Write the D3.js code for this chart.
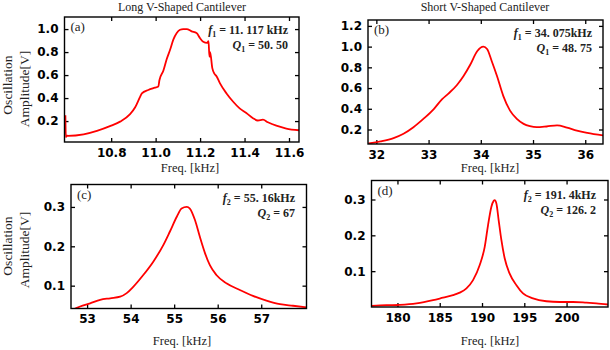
<!DOCTYPE html>
<html>
<head>
<meta charset="utf-8">
<script src="https://cdn.jsdelivr.net/npm/d3@7"></script>
<style>
body{margin:0;background:#fff;}
svg{display:block;}
.tick text{font-family:"DejaVu Sans",sans-serif;font-weight:bold;font-size:12px;fill:#000;}
.tick line{stroke:#000;stroke-width:1.3;}
.serif{font-family:"Liberation Serif",serif;fill:#222;}
</style>
</head>
<body>
<svg></svg>
<script>

// (a) long cantilever, first mode
var freqA = [10.594,10.596,10.599,10.605,10.676,10.736,10.8,10.84,10.885,10.908,10.93,10.938,10.967,10.997,11.012,11.017,11.035,11.05,11.065,11.08,11.095,11.11,11.124,11.14,11.162,11.184,11.2,11.214,11.232,11.238,11.242,11.245,11.255,11.265,11.274,11.289,11.319,11.348,11.378,11.408,11.438,11.46,11.483,11.505,11.543,11.588,11.645];
var ampA  = [0.25,0.06,0.075,0.072,0.085,0.115,0.16,0.195,0.26,0.32,0.41,0.44,0.47,0.49,0.5,0.555,0.64,0.74,0.82,0.91,0.966,0.994,1.0,1.0,0.98,0.966,0.92,0.89,0.88,0.895,0.76,0.80,0.66,0.61,0.59,0.53,0.44,0.37,0.31,0.27,0.225,0.205,0.212,0.19,0.16,0.135,0.12];

// (b) short cantilever, first mode
var freqB = [31.85,32.08,32.33,32.52,32.71,32.9,33.1,33.26,33.38,33.54,33.67,33.8,33.93,34.05,34.12,34.21,34.31,34.43,34.56,34.69,34.82,34.94,35.07,35.26,35.46,35.65,35.84,36.04,36.34];
var ampB  = [0.065,0.085,0.117,0.159,0.222,0.302,0.397,0.493,0.547,0.627,0.716,0.827,0.955,1.0,0.977,0.859,0.716,0.525,0.382,0.302,0.254,0.232,0.222,0.229,0.24,0.219,0.19,0.168,0.143];

// (c) long cantilever, second mode
var freqC = [52.63,52.84,53.07,53.3,53.53,53.76,53.91,54.06,54.29,54.52,54.75,54.9,55.06,55.17,55.29,55.36,55.48,55.59,55.71,55.82,55.97,56.2,56.51,56.81,57.12,57.43,57.73,58.04];
var ampC  = [0.037,0.047,0.055,0.064,0.068,0.072,0.081,0.097,0.127,0.161,0.203,0.237,0.275,0.296,0.3,0.296,0.266,0.224,0.182,0.152,0.127,0.106,0.089,0.074,0.062,0.053,0.049,0.045];

// (d) short cantilever, second mode
var freqD = [176.93,178.7,180.27,182.25,184.21,185.39,186.57,187.36,188.16,188.94,189.73,190.32,190.71,191.11,191.38,191.5,191.7,191.97,192.29,192.68,193.27,194.07,194.85,196.03,197.61,199.18,200.76,202.34,203.52,204.9];
var ampD  = [0.003,0.005,0.006,0.01,0.019,0.026,0.033,0.04,0.052,0.075,0.117,0.168,0.228,0.28,0.296,0.298,0.289,0.242,0.187,0.136,0.093,0.061,0.038,0.024,0.016,0.014,0.014,0.012,0.01,0.007];

var xTicksA = [10.8,11.0,11.2,11.4,11.6];
var yTicksA = [0.2,0.4,0.6,0.8,1.0];
var xTicksB = [32,33,34,35,36];
var yTicksB = [0.2,0.4,0.6,0.8,1.0,1.2];
var xTicksC = [53,54,55,56,57];
var yTicksC = [0.1,0.2,0.3];
var xTicksD = [180,185,190,195,200];
var yTicksD = [0.1,0.2,0.3];

var screen = {width:610, height:350};

var svg = d3.select("svg").attr("width",screen.width).attr("height",screen.height);

var panels = [
  {id:"a", freq:freqA, amp:ampA, xTicks:xTicksA, yTicks:yTicksA, xFmt:".1f", yFmt:".1f",
   xDomain:[10.59,11.645], yDomain:[0.018,1.105], left:64.5, right:299, top:17, bottom:142,
   f:"f", sub:"1", fText:" = 11. 117 kHz", qText:" = 50. 50", noteX:288, noteY:34, xLabelX:190, xLabelY:172},
  {id:"b", freq:freqB, amp:ampB, xTicks:xTicksB, yTicks:yTicksB, xFmt:"d", yFmt:".1f",
   xDomain:[31.84,36.34], yDomain:[0.06,1.257], left:368, right:603, top:20, bottom:144,
   f:"f", sub:"1", fText:" = 34. 075kHz", qText:" = 48. 75", noteX:592, noteY:37, xLabelX:490, xLabelY:172},
  {id:"c", freq:freqC, amp:ampC, xTicks:xTicksC, yTicks:yTicksC, xFmt:"d", yFmt:".1f",
   xDomain:[52.63,58.04], yDomain:[0.042,0.357], left:71, right:306.5, top:184.5, bottom:308.5,
   f:"f", sub:"2", fText:" = 55. 16kHz", qText:" = 67", noteX:295, noteY:202, xLabelX:182, xLabelY:345},
  {id:"d", freq:freqD, amp:ampD, xTicks:xTicksD, yTicks:yTicksD, xFmt:"d", yFmt:".1f",
   xDomain:[176.93,204.9], yDomain:[0.0,0.353], left:371.5, right:608, top:180.5, bottom:307,
   f:"f", sub:"2", fText:" = 191. 4kHz", qText:" = 126. 2", noteX:596, noteY:199, xLabelX:490, xLabelY:345}
];

var drawPanel = function(p)
{
  var xScale = d3.scaleLinear().domain(p.xDomain).range([p.left,p.right]);
  var yScale = d3.scaleLinear().domain(p.yDomain).range([p.bottom,p.top]);

  var g = svg.append("g").attr("id","panel-"+p.id);

  g.append("clipPath").attr("id","clip-"+p.id)
    .append("rect")
    .attr("x",p.left).attr("y",p.top)
    .attr("width",p.right-p.left).attr("height",p.bottom-p.top);

  // inward ticks on all four sides
  g.append("g").attr("transform","translate(0,"+p.bottom+")")
    .call(d3.axisBottom(xScale).tickValues(p.xTicks).tickFormat(d3.format(p.xFmt)).tickSizeInner(-4).tickSizeOuter(0).tickPadding(6))
    .call(function(s){s.select(".domain").remove();});
  g.append("g").attr("transform","translate(0,"+p.top+")")
    .call(d3.axisTop(xScale).tickValues(p.xTicks).tickFormat("").tickSizeInner(-4).tickSizeOuter(0))
    .call(function(s){s.select(".domain").remove();});
  g.append("g").attr("transform","translate("+p.left+",0)")
    .call(d3.axisLeft(yScale).tickValues(p.yTicks).tickFormat(d3.format(p.yFmt)).tickSizeInner(-4).tickSizeOuter(0).tickPadding(6))
    .call(function(s){s.select(".domain").remove();});
  g.append("g").attr("transform","translate("+p.right+",0)")
    .call(d3.axisRight(yScale).tickValues(p.yTicks).tickFormat("").tickSizeInner(-4).tickSizeOuter(0))
    .call(function(s){s.select(".domain").remove();});

  g.selectAll("g").attr("font-family",null).attr("font-size",null);

  var line = d3.line()
    .x(function(d){return xScale(d[0]);})
    .y(function(d){return yScale(d[1]);})
    .curve(d3.curveMonotoneX);

  g.append("path")
    .datum(d3.zip(p.freq,p.amp))
    .attr("clip-path","url(#clip-"+p.id+")")
    .attr("d",line)
    .attr("fill","none")
    .attr("stroke","#f00")
    .attr("stroke-width",1.8);

  g.append("rect")
    .attr("x",p.left).attr("y",p.top)
    .attr("width",p.right-p.left).attr("height",p.bottom-p.top)
    .attr("fill","none").attr("stroke","#000").attr("stroke-width",1.4);

  // panel letter
  g.append("text").attr("class","serif")
    .attr("x",p.left+6).attr("y",p.top+14)
    .attr("font-size",13)
    .text("("+p.id+")");

  // resonance notes
  var t1 = g.append("text").attr("class","serif")
    .attr("x",p.noteX).attr("y",p.noteY)
    .attr("text-anchor","end").attr("font-size",12).attr("font-weight","bold");
  t1.append("tspan").attr("font-style","italic").text(p.f);
  t1.append("tspan").attr("font-size",8).attr("dy",3).text(p.sub);
  t1.append("tspan").attr("dy",-3).text(p.fText);

  var t2 = g.append("text").attr("class","serif")
    .attr("x",p.noteX).attr("y",p.noteY+15)
    .attr("text-anchor","end").attr("font-size",12).attr("font-weight","bold");
  t2.append("tspan").attr("font-style","italic").text("Q");
  t2.append("tspan").attr("font-size",8).attr("dy",3).text(p.sub);
  t2.append("tspan").attr("dy",-3).text(p.qText);

  g.append("text").attr("class","serif")
    .attr("x",p.xLabelX).attr("y",p.xLabelY)
    .attr("text-anchor","middle").attr("font-size",12.5)
    .text("Freq. [kHz]");
}

panels.forEach(drawPanel);

// column titles
svg.append("text").attr("class","serif")
  .attr("x",182).attr("y",10.5).attr("text-anchor","middle").attr("font-size",12)
  .text("Long V-Shaped Cantilever");
svg.append("text").attr("class","serif")
  .attr("x",485).attr("y",10.5).attr("text-anchor","middle").attr("font-size",12)
  .text("Short V-Shaped Cantilever");

// row y labels
[85,246].forEach(function(cy){
  svg.append("text").attr("class","serif")
    .attr("transform","translate(12,"+cy+") rotate(-90)")
    .attr("text-anchor","middle").attr("font-size",13.5)
    .text("Oscillation");
  svg.append("text").attr("class","serif")
    .attr("transform","translate(29,"+(cy+4)+") rotate(-90)")
    .attr("text-anchor","middle").attr("font-size",13.5)
    .text("Amplitude[V]");
});

</script>
</body>
</html>
